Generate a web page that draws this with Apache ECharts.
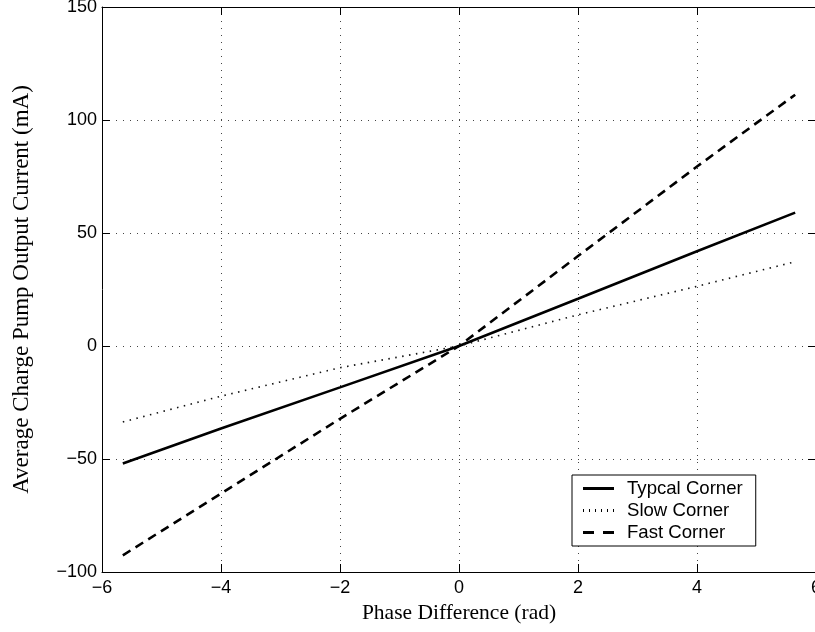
<!DOCTYPE html>
<html>
<head>
<meta charset="utf-8">
<script src="https://cdn.jsdelivr.net/npm/echarts@6/dist/echarts.min.js"></script>
<style>
  html, body { margin: 0; padding: 0; background: #fff; }
  #chart { width: 815px; height: 632px; }
</style>
</head>
<body>
<div id="chart"></div>
<script>
// Phase difference samples (rad)
const phase = [-5.65, -4, -2, 0, 2, 4, 5.65];
// Average output current per process corner (mA)
const typicalCorner = [-52, -36.5, -18.3, 0, 20.9, 41.9, 59];
const slowCorner = [-33.6, -22.2, -9.6, 0, 13.8, 26.4, 37.3];
const fastCorner = [-92.6, -65.3, -32.2, 0, 39.8, 79.4, 111.2];
// Axis ticks
const xTicks = [-6, -4, -2, 0, 2, 4, 6];
const yTicks = [-100, -50, 0, 50, 100, 150];

const seriesNames = ['Typcal Corner', 'Slow Corner', 'Fast Corner'];

// Legend key glyphs: a solid bar, a row of dots and two dashes
const solidKey = 'path://M0,0H31V3H0Z';
const dottedKey = 'path://' + [0, 6, 12, 18, 24, 30].map(x => `M${x},0H${x + 1}V3H${x}Z`).join(' ');
const dashedKey = 'path://M0,0H11V3H0Z M20,0H31V3H20Z';
const legendKeys = [solidKey, dottedKey, dashedKey];

const pairs = ys => phase.map((x, i) => [x, ys[i]]);
const minus = v => String(v).replace('-', '\u2212');

const sans = 'Liberation Sans';
const serif = 'Liberation Serif';

const tickLabel = { fontFamily: sans, fontSize: 18, color: '#000' };

function baseAxis(ticks, extra) {
  return Object.assign({
    type: 'value',
    min: ticks[0],
    max: ticks[ticks.length - 1],
    interval: ticks[1] - ticks[0],
    axisLine: { show: true, onZero: false, lineStyle: { color: '#000', width: 1 } },
    axisTick: { show: true, inside: true, length: 8, lineStyle: { color: '#000', width: 1 } },
    splitLine: { show: false }
  }, extra);
}

const chart = echarts.init(document.getElementById('chart'), null, { renderer: 'canvas' });

chart.setOption({
  animation: false,
  backgroundColor: '#fff',
  grid: { left: 102, top: 7, width: 714, height: 565, containLabel: false, outerBoundsMode: 'none' },
  legend: {
    data: seriesNames.map((name, i) => ({ name, icon: legendKeys[i] })),
    orient: 'vertical',
    left: 572,
    top: 475,
    padding: [4, 13, 4, 11],
    itemWidth: 31,
    itemHeight: 3,
    itemGap: 3,
    itemStyle: { color: '#000', borderWidth: 0 },
    borderColor: '#000',
    borderWidth: 1,
    borderRadius: 0,
    backgroundColor: '#fff',
    textStyle: { fontFamily: sans, fontSize: 18.6, color: '#000', padding: [0, 0, 0, 8], lineHeight: 18 }
  },
  xAxis: [
    baseAxis(xTicks, {
      position: 'bottom',
      name: 'Phase Difference (rad)',
      nameLocation: 'middle',
      nameGap: 28,
      nameTextStyle: { fontFamily: serif, fontSize: 21.5, color: '#000', verticalAlign: 'top' },
      axisLabel: Object.assign({ margin: 7, formatter: v => minus(v) }, tickLabel),
      splitLine: { show: true, lineStyle: { color: '#444', width: 1, type: [1, 6] } }
    }),
    baseAxis(xTicks, { position: 'top', axisLabel: { show: false } })
  ],
  yAxis: [
    baseAxis(yTicks, {
      position: 'left',
      name: 'Average Charge Pump Output Current (mA)',
      nameLocation: 'middle',
      nameRotate: 90,
      nameGap: 69,
      nameTextStyle: { fontFamily: serif, fontSize: 23, color: '#000' },
      axisLabel: Object.assign({ margin: 5, formatter: v => minus(v) }, tickLabel),
      splitLine: { show: true, lineStyle: { color: '#444', width: 1, type: [1, 6] } }
    }),
    baseAxis(yTicks, { position: 'right', axisLabel: { show: false } })
  ],
  series: [
    {
      name: seriesNames[0], type: 'line', data: pairs(typicalCorner),
      symbol: 'none', color: '#000',
      lineStyle: { color: '#000', width: 2.6, type: 'solid' }
    },
    {
      name: seriesNames[1], type: 'line', data: pairs(slowCorner),
      symbol: 'none', color: '#000',
      lineStyle: { color: '#111', width: 1.6, type: [1.5, 5.5] }
    },
    {
      name: seriesNames[2], type: 'line', data: pairs(fastCorner),
      symbol: 'none', color: '#000',
      lineStyle: { color: '#000', width: 2.6, type: [9, 6] }
    }
  ]
});
</script>
</body>
</html>
